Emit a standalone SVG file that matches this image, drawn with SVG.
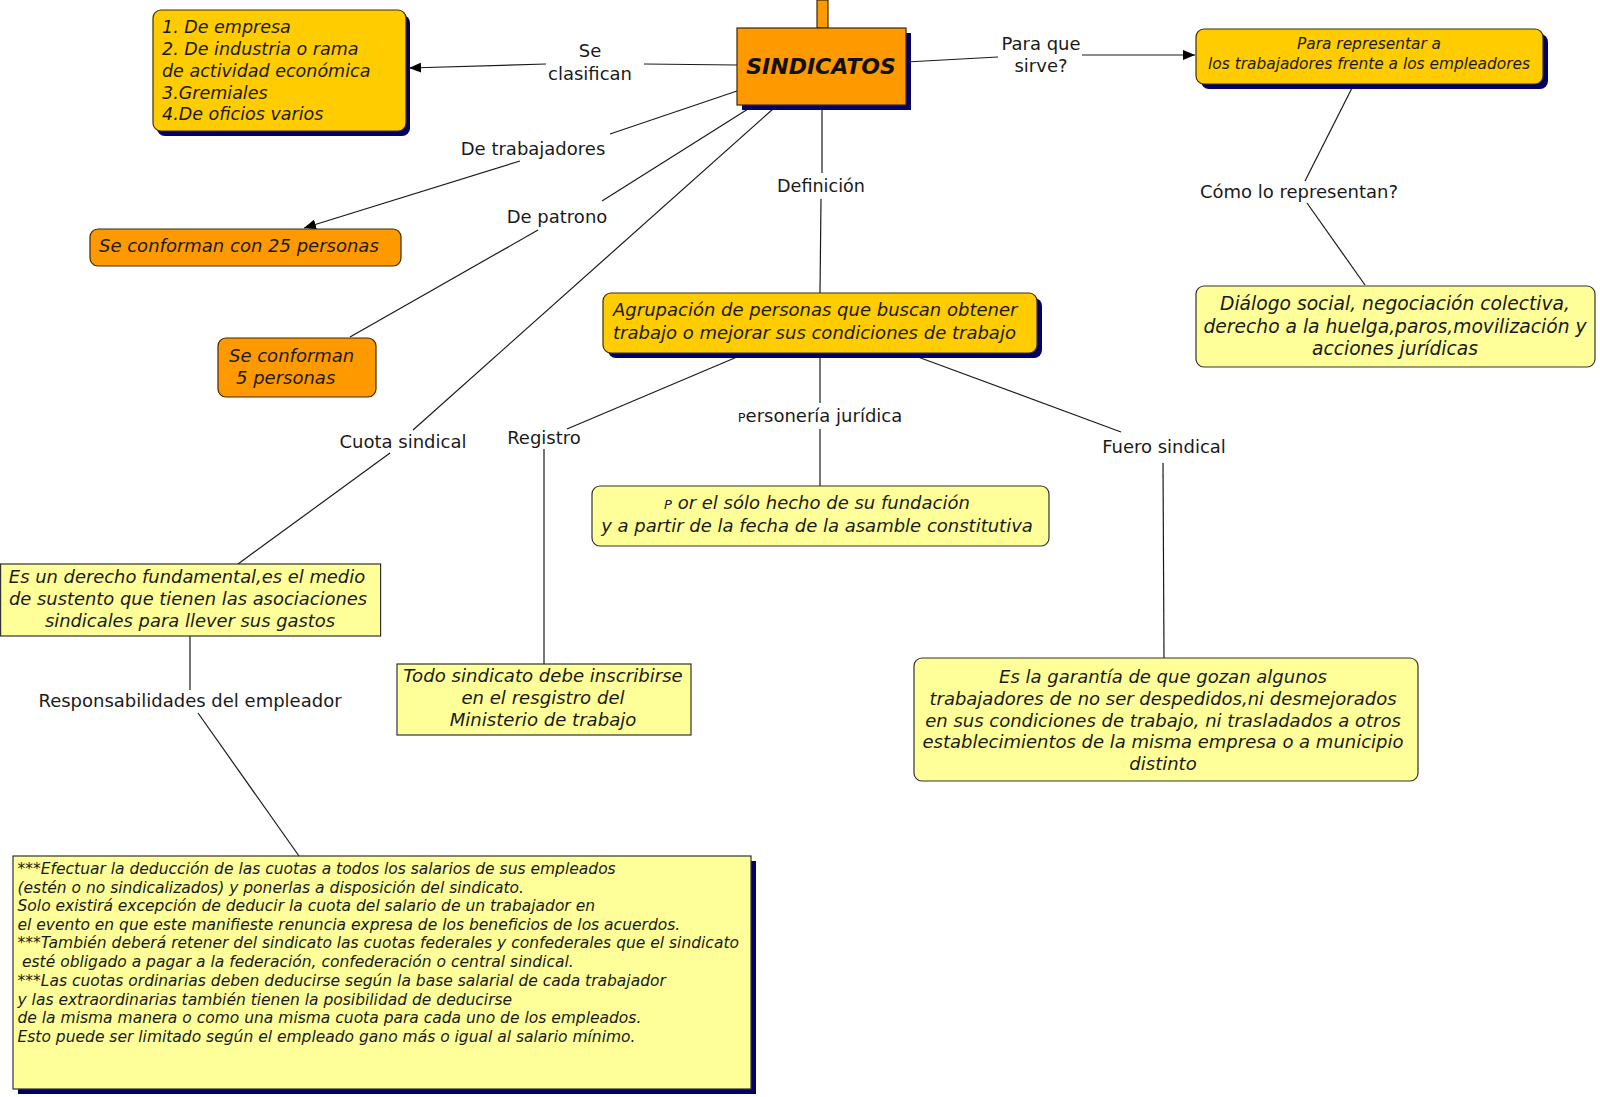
<svg xmlns="http://www.w3.org/2000/svg" width="1600" height="1097" viewBox="0 0 1600 1097">
<style>
.lbl{font-family:"DejaVu Sans",Verdana,sans-serif;font-size:18px;fill:#1a1a1a}
.it{font-family:"DejaVu Sans",Verdana,sans-serif;font-style:italic;font-size:17.5px;fill:#1a1a1a}
.c{text-anchor:middle}
.conn{stroke:#1a1a1a;stroke-width:1.2;fill:none}
.orange{fill:#FF9900;stroke:#3d2a00;stroke-width:1.2}
.gold{fill:#FFCC00;stroke:#3d3000;stroke-width:1.2}
.pale{fill:#FFFF99;stroke:#333333;stroke-width:1.2}
.shadow{fill:#000066}
.sm{font-size:15.5px}
</style>
<defs>
<marker id="arr" viewBox="0 0 12 10" refX="12" refY="5" markerWidth="12" markerHeight="10" markerUnits="userSpaceOnUse" orient="auto">
<path d="M0,0 L12,5 L0,10 z" fill="#000"/>
</marker>
</defs>
<rect width="1600" height="1097" fill="#ffffff"/>

<g id="connectors">
<line class="conn" x1="737" y1="65" x2="644" y2="64"/>
<line class="conn" x1="546" y1="64" x2="409" y2="68" marker-end="url(#arr)"/>
<line class="conn" x1="906" y1="62" x2="998" y2="57"/>
<line class="conn" x1="1082" y1="55" x2="1195" y2="55" marker-end="url(#arr)"/>
<line class="conn" x1="1353" y1="86" x2="1305" y2="181"/>
<line class="conn" x1="1307" y1="203" x2="1365" y2="285"/>
<line class="conn" x1="737" y1="91" x2="610" y2="134"/>
<line class="conn" x1="520" y1="161" x2="304" y2="228" marker-end="url(#arr)"/>
<line class="conn" x1="748" y1="109" x2="602" y2="201"/>
<line class="conn" x1="538" y1="230" x2="350" y2="337"/>
<line class="conn" x1="773" y1="109" x2="413" y2="430"/>
<line class="conn" x1="390" y1="453" x2="238" y2="564"/>
<line class="conn" x1="190" y1="636" x2="190" y2="690"/>
<line class="conn" x1="198" y1="713" x2="299" y2="856"/>
<line class="conn" x1="822" y1="105" x2="822" y2="173"/>
<line class="conn" x1="821" y1="199" x2="820" y2="293"/>
<line class="conn" x1="737" y1="357" x2="567" y2="429"/>
<line class="conn" x1="544" y1="449" x2="544" y2="664"/>
<line class="conn" x1="820" y1="357" x2="820" y2="403"/>
<line class="conn" x1="820" y1="429" x2="820" y2="486"/>
<line class="conn" x1="918" y1="357" x2="1121" y2="432"/>
<line class="conn" x1="1163" y1="463" x2="1164" y2="658"/>

<text class="lbl c" x="590" y="57">Se</text>
<text class="lbl c" x="590" y="80">clasifican</text>
<text class="lbl c" x="1041" y="50">Para que</text>
<text class="lbl c" x="1041" y="72">sirve?</text>
<text class="lbl c" x="1299" y="198">Cómo lo representan?</text>
<text class="lbl c" x="533" y="155">De trabajadores</text>
<text class="lbl c" x="557" y="223">De patrono</text>
<text class="lbl c" x="403" y="448">Cuota sindical</text>
<text class="lbl c" x="190" y="707">Responsabilidades del empleador</text>
<text class="lbl c" x="821" y="192" style="font-size:17.6px">Definición</text>
<text class="lbl c" x="544" y="444">Registro</text>
<text class="lbl c" x="820" y="422"><tspan font-size="13">P</tspan>ersonería jurídica</text>
<text class="lbl c" x="1164" y="453">Fuero sindical</text>
</g>

<g id="sindicatos">
<rect x="817" y="0" width="11" height="28" class="orange"/>
<rect x="742" y="33" width="169" height="77" class="shadow"/>
<rect x="737" y="28" width="169" height="77" class="orange"/>
<text x="821" y="74" class="c" style="font-family:'DejaVu Sans',Verdana,sans-serif;font-weight:bold;font-style:italic;font-size:22px;fill:#111">SINDICATOS</text>
</g>

<g id="clasificacion">
<rect x="157" y="15" width="253" height="121" rx="8" class="shadow"/>
<rect x="153" y="10" width="253" height="121" rx="8" class="gold"/>
<text class="it" x="162" y="33">1. De empresa</text>
<text class="it" x="162" y="55">2. De industria o rama</text>
<text class="it" x="162" y="77">de actividad económica</text>
<text class="it" x="162" y="99">3.Gremiales</text>
<text class="it" x="162" y="120">4.De oficios varios</text>
</g>

<g id="para-representar">
<rect x="1201" y="34" width="347" height="55" rx="8" class="shadow"/>
<rect x="1196" y="29" width="347" height="55" rx="8" class="gold"/>
<text class="it c" x="1369" y="49" style="font-size:15.4px">Para representar a</text>
<text class="it c" x="1369" y="69" style="font-size:15.4px">los trabajadores frente a los empleadores</text>
</g>

<g id="dialogo">
<rect x="1196" y="286" width="399" height="81" rx="8" class="pale"/>
<text class="it c" x="1395" y="310" style="font-size:18.7px">Diálogo social, negociación colectiva,</text>
<text class="it c" x="1395" y="333" style="font-size:18.7px">derecho a la huelga,paros,movilización y</text>
<text class="it c" x="1395" y="355" style="font-size:18.7px">acciones jurídicas</text>
</g>

<g id="trabajadores-25">
<rect x="90" y="229" width="311" height="37" rx="8" class="orange"/>
<text class="it" x="99" y="252" style="font-size:18px">Se conforman con 25 personas</text>
</g>

<g id="patrono-5">
<rect x="218" y="338" width="158" height="59" rx="8" class="orange"/>
<text class="it" x="229" y="362" style="font-size:18px">Se conforman</text>
<text class="it" x="236" y="384" style="font-size:18px">5 personas</text>
</g>

<g id="cuota">
<rect x="0.6" y="564" width="380" height="72" class="pale"/>
<text class="it c" x="187" y="583" style="font-size:17.9px">Es un derecho fundamental,es el medio</text>
<text class="it c" x="188" y="605" style="font-size:17.9px">de sustento que tienen las asociaciones</text>
<text class="it c" x="190" y="627" style="font-size:17.9px">sindicales para llever sus gastos</text>
</g>

<g id="responsabilidades">
<rect x="18" y="861" width="738" height="233" class="shadow"/>
<rect x="13" y="856" width="738" height="233" class="pale"/>
<text class="it sm" x="17.5" y="874">***Efectuar la deducción de las cuotas a todos los salarios de sus empleados</text>
<text class="it sm" x="17.5" y="893">(estén o no sindicalizados) y ponerlas a disposición del sindicato.</text>
<text class="it sm" x="17.5" y="911">Solo existirá excepción de deducir la cuota del salario de un trabajador en</text>
<text class="it sm" x="17.5" y="930">el evento en que este manifieste renuncia expresa de los beneficios de los acuerdos.</text>
<text class="it sm" x="17.5" y="948">***También deberá retener del sindicato las cuotas federales y confederales que el sindicato</text>
<text class="it sm" x="22" y="967">esté obligado a pagar a la federación, confederación o central sindical.</text>
<text class="it sm" x="17.5" y="986">***Las cuotas ordinarias deben deducirse según la base salarial de cada trabajador</text>
<text class="it sm" x="17.5" y="1005">y las extraordinarias también tienen la posibilidad de deducirse</text>
<text class="it sm" x="17.5" y="1023">de la misma manera o como una misma cuota para cada uno de los empleados.</text>
<text class="it sm" x="17.5" y="1042">Esto puede ser limitado según el empleado gano más o igual al salario mínimo.</text>
</g>

<g id="agrupacion">
<rect x="608" y="298" width="434" height="60" rx="8" class="shadow"/>
<rect x="603" y="293" width="434" height="60" rx="8" class="gold"/>
<text class="it" x="613" y="316" style="font-size:18px">Agrupación de personas que buscan obtener</text>
<text class="it" x="613" y="339" style="font-size:18px">trabajo o mejorar sus condiciones de trabajo</text>
</g>

<g id="personeria">
<rect x="592" y="486" width="457" height="60" rx="8" class="pale"/>
<text class="it c" x="817" y="509" style="font-size:18px"><tspan font-size="13">P</tspan> or el sólo hecho de su fundación</text>
<text class="it c" x="817" y="532" style="font-size:18px">y a partir de la fecha de la asamble constitutiva</text>
</g>

<g id="registro">
<rect x="397" y="664" width="294" height="71" class="pale"/>
<text class="it c" x="543" y="682" style="font-size:18.1px">Todo sindicato debe inscribirse</text>
<text class="it c" x="543" y="704" style="font-size:18.1px">en el resgistro del</text>
<text class="it c" x="543" y="726" style="font-size:18.1px">Ministerio de trabajo</text>
</g>

<g id="fuero">
<rect x="914" y="658" width="504" height="123" rx="8" class="pale"/>
<text class="it c" x="1163" y="683" style="font-size:18px">Es la garantía de que gozan algunos</text>
<text class="it c" x="1163" y="705" style="font-size:18px">trabajadores de no ser despedidos,ni desmejorados</text>
<text class="it c" x="1163" y="727" style="font-size:18px">en sus condiciones de trabajo, ni trasladados a otros</text>
<text class="it c" x="1163" y="748" style="font-size:18px">establecimientos de la misma empresa o a municipio</text>
<text class="it c" x="1163" y="770" style="font-size:18px">distinto</text>
</g>
</svg>
